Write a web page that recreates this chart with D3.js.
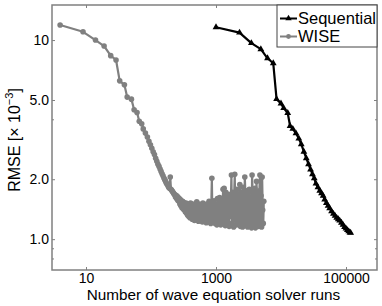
<!DOCTYPE html>
<html>
<head>
<meta charset="utf-8">
<script src="https://cdn.jsdelivr.net/npm/d3@7"></script>
<style>
  body { margin: 0; background: #fff; }
  svg { display: block; font-family: "Liberation Sans", Arial, sans-serif; }
</style>
</head>
<body>
<svg id="chart" width="382" height="306"></svg>
<script>
// WISE: [solver runs, RMSE x 1e-3]
const wisePoints = [
  [4, 11.9], [9, 11.0], [14, 10.0], [19, 9.33], [24, 8.35], [29, 7.94], [33, 6.24], [39, 5.96],
  [43, 5.17], [50, 5.05], [55, 4.47], [61, 4.33], [66, 3.91], [72, 3.8], [76, 3.58], [82, 3.41],
  [88, 3.26], [93, 3.1], [98, 2.98], [103, 2.86], [108, 2.75], [113, 2.66], [118, 2.55], [123, 2.46],
  [128, 2.38], [133, 2.32], [138, 2.25], [143, 2.19], [148, 2.13], [153, 2.08], [158, 2.03], [163, 1.99],
  [168, 1.95], [173, 1.91], [178, 1.88], [183, 1.85], [188, 1.82], [193, 1.8], [198, 2.05], [203, 1.78],
  [208, 1.76], [213, 1.74], [218, 1.72], [223, 1.7], [228, 1.68],
  [233, 1.67], [238, 1.63], [243, 1.66], [248, 1.6], [253, 1.64], [258, 1.57], [263, 1.62], [268, 1.55], [273, 1.6], [278, 1.5],
  [283, 1.58], [288, 1.47], [294, 1.56], [300, 1.44], [306, 1.55], [312, 1.42], [318, 1.53], [325, 1.4], [332, 1.5], [339, 1.37],
  [346, 1.52], [353, 1.35], [360, 1.48], [367, 1.32], [374, 1.5], [382, 1.3], [390, 1.45], [398, 1.28], [406, 1.52], [414, 1.33],
  [422, 1.42], [431, 1.26], [440, 1.5], [449, 1.3], [458, 1.38], [467, 1.24], [476, 1.48], [486, 1.35], [496, 1.27], [506, 1.54],
  [516, 1.3], [526, 1.44], [537, 1.23], [548, 1.5], [559, 1.34], [570, 1.25], [581, 1.46], [593, 1.28], [605, 1.4], [617, 1.22],
  [629, 1.52], [642, 1.3], [655, 1.43], [668, 1.24], [681, 1.48], [695, 1.33], [709, 1.21], [723, 1.5], [737, 1.27], [752, 1.42],
  [767, 1.22], [782, 1.55], [798, 1.3], [814, 1.45], [830, 1.2], [847, 1.5], [864, 2.02], [881, 1.28], [899, 1.48], [917, 1.22],
  [935, 1.56], [954, 1.3], [973, 1.2], [992, 1.5], [1012, 1.35], [1032, 1.18], [1053, 1.6], [1074, 1.25], [1095, 1.45], [1117, 1.2],
  [1139, 1.62], [1162, 1.3], [1185, 1.18], [1209, 1.55], [1233, 1.4], [1258, 1.2], [1283, 1.78], [1309, 1.25], [1335, 1.8], [1362, 1.35],
  [1389, 1.17], [1417, 1.72], [1445, 1.3], [1474, 1.6], [1503, 1.18], [1533, 1.68], [1564, 1.4], [1595, 1.16], [1627, 1.65], [1660, 1.3],
  [1693, 1.55], [1727, 2.1], [1762, 1.2], [1797, 1.72], [1833, 1.35], [1870, 1.15], [1907, 1.7], [1945, 2.12], [1984, 1.25], [2024, 1.6],
  [2064, 1.18], [2105, 1.78], [2147, 1.4], [2190, 1.2], [2234, 1.68], [2279, 1.3], [2325, 1.88], [2372, 1.16], [2419, 1.72], [2467, 1.35],
  [2516, 1.6], [2566, 1.15], [2617, 1.82], [2669, 1.3], [2722, 1.2], [2776, 2.05], [2832, 1.7], [2889, 1.18], [2947, 1.75], [3006, 1.35],
  [3066, 1.15], [3127, 1.68], [3190, 1.3], [3254, 1.78], [3319, 1.2], [3385, 1.62], [3453, 1.4], [3522, 1.14], [3592, 2.1], [3664, 1.72],
  [3737, 1.18], [3812, 1.65], [3888, 1.35], [3966, 1.8], [4045, 1.14], [4126, 1.6], [4209, 1.95], [4293, 1.2], [4379, 1.7], [4467, 1.3],
  [4556, 1.16], [4647, 1.75], [4740, 2.1], [4835, 1.2], [4932, 1.65], [5031, 1.15], [5131, 2.05], [5234, 1.4], [5339, 1.2], [5446, 1.55]
];

// Sequential: solver runs vs RMSE (x 1e-3)
const seqRuns = [
  1000, 2300, 3500, 4900, 6200, 7600, 8550, 10000, 11000, 12700, 13800, 15200,
  17000, 18800, 20500, 22500, 24500, 26500, 28500, 30500, 32500, 34500, 37000,
  39500, 42000, 44500, 47000, 50000, 53000, 56000, 60000, 64000, 68000, 72000,
  76000, 80000, 85000, 90000, 95000, 100000, 105000, 110000, 115000, 118000
];
const seqRmse = [
  11.6, 10.9, 9.65, 9.0, 8.1, 7.65, 5.05, 4.8, 4.55, 4.3, 3.7, 3.58,
  3.4, 3.2, 3.0, 2.75, 2.55, 2.38, 2.24, 2.12, 2.02, 1.9, 1.82,
  1.75, 1.7, 1.65, 1.58, 1.52, 1.47, 1.43, 1.38, 1.34, 1.31, 1.28,
  1.26, 1.24, 1.21, 1.18, 1.15, 1.13, 1.11, 1.095, 1.08, 1.075
];

const seriesNames = ["Sequential", "WISE"];
const xTickValues = [10, 1000, 100000];
const yTickValues = [1, 2, 5, 10];
const yMinorTicks = [0.8, 0.9, 4];

const svg = d3.select("#chart");
const margin = { left: 52, right: 377, top: 5, bottom: 270 };

const x = d3.scaleLog().domain([3, 3e5]).range([margin.left, margin.right]);
const y = d3.scaleLog().domain([0.7, 15]).range([margin.bottom, margin.top]);

const axisColor = "#808080";
const wiseColor = "#808080";

// frame
svg.append("rect")
  .attr("x", margin.left).attr("y", margin.top)
  .attr("width", margin.right - margin.left)
  .attr("height", margin.bottom - margin.top)
  .attr("fill", "none")
  .attr("stroke", axisColor)
  .attr("stroke-width", 1.5);

const styleAxis = g => {
  g.select(".domain").remove();
  g.selectAll(".tick line").attr("stroke", axisColor);
  g.selectAll(".tick text").attr("fill", "#000").attr("font-size", 14);
  g.attr("font-family", null);
};

const yFmt = d => d >= 10 ? "10" : d.toFixed(1);

svg.append("g")
  .attr("transform", `translate(0,${margin.bottom})`)
  .call(d3.axisBottom(x).tickValues(xTickValues).tickFormat(d3.format("d"))
    .tickSizeInner(-3).tickSizeOuter(0).tickPadding(3.5))
  .call(styleAxis);

svg.append("g")
  .attr("transform", `translate(0,${margin.top})`)
  .call(d3.axisTop(x).tickValues(xTickValues).tickFormat("")
    .tickSizeInner(-3).tickSizeOuter(0))
  .call(styleAxis);

svg.append("g")
  .attr("transform", `translate(${margin.left},0)`)
  .call(d3.axisLeft(y).tickValues(yTickValues).tickFormat(yFmt)
    .tickSizeInner(-3).tickSizeOuter(0).tickPadding(3))
  .call(styleAxis);

svg.append("g")
  .attr("transform", `translate(${margin.right},0)`)
  .call(d3.axisRight(y).tickValues(yTickValues).tickFormat("")
    .tickSizeInner(-3).tickSizeOuter(0))
  .call(styleAxis);

// minor ticks on left and right
svg.append("g")
  .attr("transform", `translate(${margin.left},0)`)
  .call(d3.axisLeft(y).tickValues(yMinorTicks).tickFormat("")
    .tickSizeInner(-2).tickSizeOuter(0))
  .call(styleAxis);

svg.append("g")
  .attr("transform", `translate(${margin.right},0)`)
  .call(d3.axisRight(y).tickValues(yMinorTicks).tickFormat("")
    .tickSizeInner(-2).tickSizeOuter(0))
  .call(styleAxis);

// axis titles
svg.append("text")
  .attr("x", (margin.left + margin.right) / 2 - 1)
  .attr("y", 299.5)
  .attr("text-anchor", "middle")
  .attr("font-size", 15.3)
  .text("Number of wave equation solver runs");

const yTitle = svg.append("text")
  .attr("transform", `translate(19.5,140) rotate(-90)`)
  .attr("text-anchor", "middle")
  .attr("font-size", 16);
yTitle.append("tspan").text("RMSE [\u00d7 10");
yTitle.append("tspan").attr("font-size", 11).attr("dy", -7).text("\u22123");
yTitle.append("tspan").attr("dy", 7).text("]");

// series
const seq = seqRuns.map((r, i) => [r, seqRmse[i]]);

const line = d3.line().x(d => x(d[0])).y(d => y(d[1]));

svg.append("path")
  .datum(wisePoints)
  .attr("d", line)
  .attr("fill", "none")
  .attr("stroke", wiseColor)
  .attr("stroke-width", 2.2)
  .attr("stroke-linejoin", "round");

svg.append("g").selectAll("circle")
  .data(wisePoints)
  .join("circle")
  .attr("cx", d => x(d[0]))
  .attr("cy", d => y(d[1]))
  .attr("r", 2.8)
  .attr("fill", wiseColor);

svg.append("path")
  .datum(seq)
  .attr("d", line)
  .attr("fill", "none")
  .attr("stroke", "#000")
  .attr("stroke-width", 2.2)
  .attr("stroke-linejoin", "round");

const tri = d3.symbol().type(d3.symbolTriangle).size(20);

svg.append("g").selectAll("path")
  .data(seq)
  .join("path")
  .attr("d", tri)
  .attr("transform", d => `translate(${x(d[0])},${y(d[1])})`)
  .attr("fill", "#000");

// legend
const legend = svg.append("g");
legend.append("rect")
  .attr("x", 277).attr("y", margin.top)
  .attr("width", margin.right - 277).attr("height", 42)
  .attr("fill", "#fff")
  .attr("stroke", "#444")
  .attr("stroke-width", 1);

const legendItems = [
  { name: seriesNames[0], color: "#000", symbol: d3.symbolTriangle, size: 18, y: 18.5 },
  { name: seriesNames[1], color: wiseColor, symbol: d3.symbolCircle, size: 18, y: 36.5 }
];

legendItems.forEach(it => {
  legend.append("line")
    .attr("x1", 280).attr("x2", 297)
    .attr("y1", it.y).attr("y2", it.y)
    .attr("stroke", it.color).attr("stroke-width", 2);
  legend.append("path")
    .attr("d", d3.symbol().type(it.symbol).size(it.size)())
    .attr("transform", `translate(288.5,${it.y})`)
    .attr("fill", it.color);
  legend.append("text")
    .attr("x", 298).attr("y", it.y + 5.8)
    .attr("font-size", 16.5)
    .text(it.name);
});
</script>
</body>
</html>
